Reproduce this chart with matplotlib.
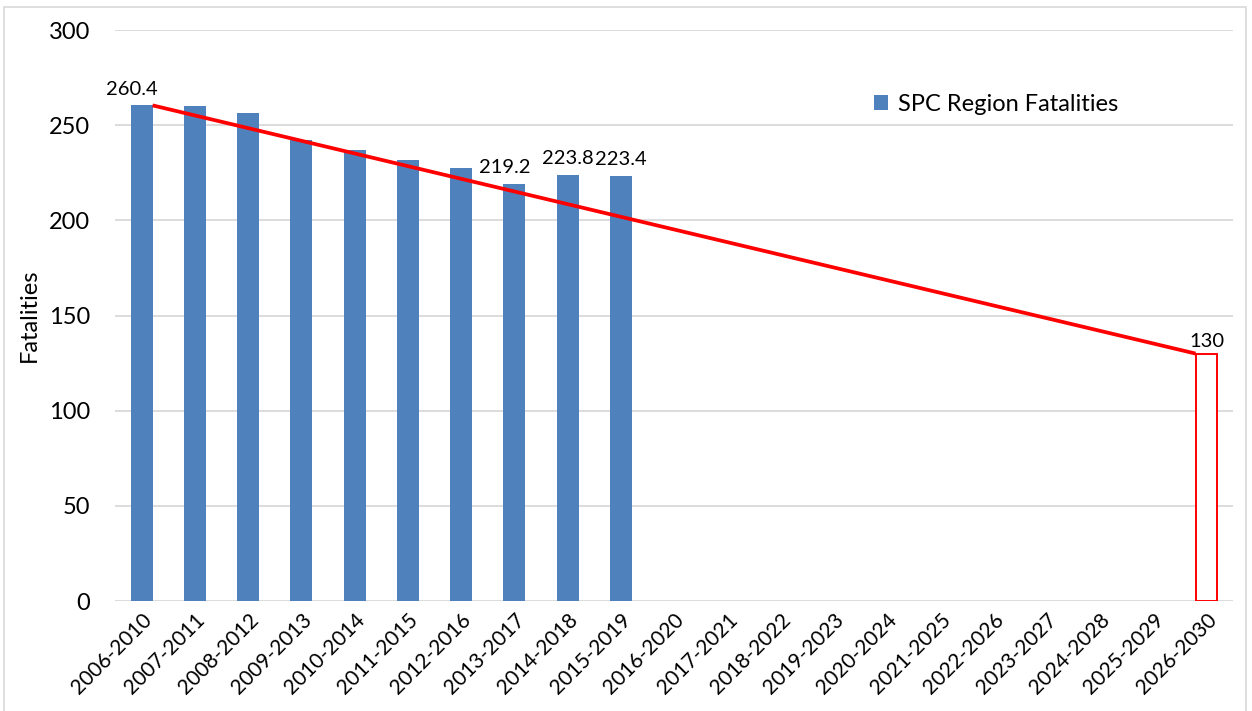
import numpy as np
import matplotlib.pyplot as plt
from matplotlib.patches import Rectangle

plt.rcParams['font.family'] = ['Lato', 'DejaVu Sans']

periods = ["2006-2010", "2007-2011", "2008-2012", "2009-2013", "2010-2014",
           "2011-2015", "2012-2016", "2013-2017", "2014-2018", "2015-2019",
           "2016-2020", "2017-2021", "2018-2022", "2019-2023", "2020-2024",
           "2021-2025", "2022-2026", "2023-2027", "2024-2028", "2025-2029",
           "2026-2030"]
fatalities = [260.4, 259.9, 256.3, 242.3, 237.1, 231.9, 227.5, 219.2, 223.8, 223.4]
labelled = [0, 7, 8, 9]
target = 130
target_idx = 20

fig = plt.figure(figsize=(12.52, 7.11), dpi=100)
ax = fig.add_axes([0.0919, 0.1547, 0.893, 0.8031])

# light frame around the chart area
fig.patches.append(Rectangle((0.003, -0.01), 0.992, 1.0, transform=fig.transFigure,
                             fill=False, edgecolor='#d9d9d9', linewidth=1.2))

x = np.arange(len(fatalities))
bw = 0.41
ax.bar(x, fatalities, width=bw, color='#4f81bd', label='SPC Region Fatalities', zorder=3)
for i in labelled:
    ax.text(x[i] - 0.18 if i in (0, 7) else x[i], fatalities[i] + 4, f"{fatalities[i]:.1f}",
            ha='center', va='bottom', fontsize=14.5)

# target outline bar and trend line to it
ax.bar([target_idx], [target], width=bw, facecolor='white', edgecolor='#ff0000',
       linewidth=1.4, zorder=3)
ax.text(target_idx, target + 2, f"{target}", ha='center', va='bottom', fontsize=14.5)
ax.plot([x[0] + bw / 2, target_idx - bw / 2], [fatalities[0], target],
        color='#ff0000', linewidth=2.7, zorder=4, solid_capstyle='butt')

ax.set_xlim(-0.5, len(periods) - 0.5)
ax.set_ylim(0, 300)
ax.set_yticks(np.arange(0, 301, 50))
ax.set_xticks(np.arange(len(periods)))
ax.set_xticklabels(periods, rotation=45, ha='right', rotation_mode='anchor', fontsize=15)
ax.tick_params(axis='y', labelsize=17, length=0, pad=18)
ax.tick_params(axis='x', length=0, pad=6)
ax.grid(axis='y', color='#d9d9d9', linewidth=1.3, zorder=0)
ax.set_axisbelow(True)
for s in ax.spines.values():
    s.set_visible(False)
ax.set_ylabel('Fatalities', fontsize=17, labelpad=6)

ax.legend(loc='upper left', bbox_to_anchor=(0.66, 0.925), frameon=False, fontsize=17,
          handlelength=0.6, handleheight=0.6, handletextpad=0.4)

plt.savefig('out.png', dpi=100)
